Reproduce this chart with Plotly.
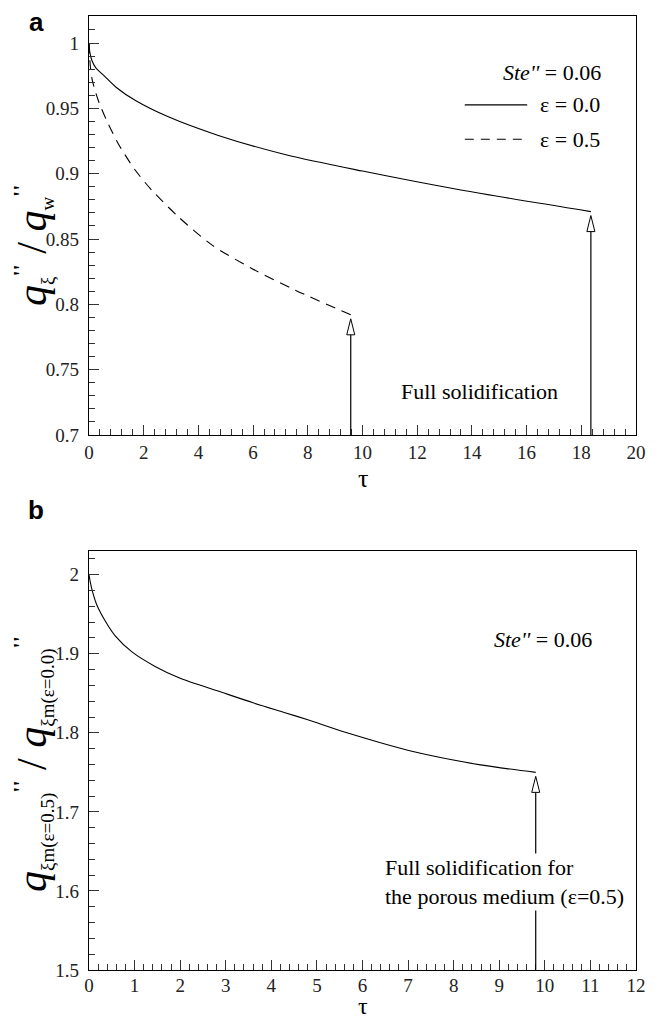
import plotly.graph_objects as go

# ---- data ----
tau_eps00 = [0.0, 0.03, 0.1, 0.25, 0.5, 1.0, 1.7, 2.9, 4.7, 7.2, 10.0, 13.6, 18.35]
q_eps00 = [1.0, 0.993, 0.987, 0.981, 0.976, 0.966, 0.956, 0.9435, 0.9295, 0.9145, 0.902, 0.8875, 0.871]

tau_eps05 = [0.0, 0.05, 0.12, 0.34, 0.64, 1.07, 1.68, 2.29, 3.27, 4.49, 5.95, 7.53, 9.57]
q_eps05 = [1.0, 0.982, 0.9716, 0.956, 0.941, 0.923, 0.903, 0.8875, 0.867, 0.8455, 0.8275, 0.811, 0.792]

tau_ratio = [0.0, 0.03, 0.08, 0.17, 0.35, 0.57, 0.95, 1.45, 2.0, 2.85, 3.6, 4.3, 4.8, 5.66,
             7.13, 8.59, 9.8]
q_ratio = [2.0, 1.99, 1.978, 1.962, 1.942, 1.923, 1.902, 1.884, 1.869, 1.8525, 1.838, 1.8255, 1.8165, 1.80,
           1.776, 1.7595, 1.75]

xticks_a = [0, 2, 4, 6, 8, 10, 12, 14, 16, 18, 20]
yticks_a = [0.7, 0.75, 0.8, 0.85, 0.9, 0.95, 1.0]
xticks_b = list(range(0, 13))
yticks_b = [1.5, 1.6, 1.7, 1.8, 1.9, 2.0]

SERIF = "'Liberation Serif', 'Times New Roman', Times, 'DejaVu Serif', serif"
SANS = "'Liberation Sans', Arial, Helvetica, sans-serif"

# page geometry (the html body adds an 8px offset)
PAGE_OFF = 8
W_PAGE, H_PAGE = 662, 1019
PL, PR, PT, PB = 89, 636, 16, 970          # plot area in page pixels
W = W_PAGE - PAGE_OFF
H = H_PAGE - PAGE_OFF
ML = PL - PAGE_OFF
MT = PT - PAGE_OFF
MR = W - (PR - PAGE_OFF)
MB = H - (PB - PAGE_OFF)
plot_h = PB - PT
pan_w = PR - PL
pan_h = 419
dom_a = [(plot_h - pan_h) / plot_h, 1.0]
dom_b = [0.0, pan_h / plot_h]

xr_a = [0, 20]
yr_a = [0.7, 1.0207]
xr_b = [0, 12]
yr_b = [1.5, 2.03]


def px_to_paper_x(px):
    return (px - PL) / pan_w


def px_to_paper_y(py):
    return (PB - py) / plot_h


fig = go.Figure()
fig.add_trace(go.Scatter(x=tau_eps00, y=q_eps00, mode="lines",
                         line=dict(color="black", width=1.1, shape="spline", smoothing=0.8),
                         xaxis="x", yaxis="y", showlegend=False, hoverinfo="skip"))
fig.add_trace(go.Scatter(x=tau_eps05, y=q_eps05, mode="lines",
                         line=dict(color="black", width=1.1, dash="10px,7px", shape="spline", smoothing=0.8),
                         xaxis="x", yaxis="y", showlegend=False, hoverinfo="skip"))
fig.add_trace(go.Scatter(x=tau_ratio, y=q_ratio, mode="lines",
                         line=dict(color="black", width=1.1, shape="spline", smoothing=0.8),
                         xaxis="x2", yaxis="y2", showlegend=False, hoverinfo="skip"))

shapes = []


def add_arrow(xref, yref, x, y_end, y_base, xr, yr):
    # open-triangle arrow pointing up at the curve end
    px_x = pan_w / (xr[1] - xr[0])
    px_y = pan_h / (yr[1] - yr[0])
    gap = 4 / px_y
    hh = 16 / px_y
    hw = 4 / px_x
    tip = y_end - gap
    shapes.append(dict(type="line", xref=xref, yref=yref, x0=x, x1=x, y0=y_base, y1=tip - hh,
                       line=dict(color="black", width=1.2)))
    shapes.append(dict(type="path", xref=xref, yref=yref,
                       path=f"M {x - hw},{tip - hh} L {x},{tip} L {x + hw},{tip - hh} Z",
                       fillcolor="white", line=dict(color="black", width=1)))


add_arrow("x", "y", tau_eps05[-1], q_eps05[-1], yr_a[0], xr_a, yr_a)
add_arrow("x", "y", tau_eps00[-1], q_eps00[-1], yr_a[0], xr_a, yr_a)
add_arrow("x2", "y2", tau_ratio[-1], q_ratio[-1], yr_b[0], xr_b, yr_b)

# legend lines (panel a)
shapes.append(dict(type="line", xref="x domain", yref="y domain", x0=0.687, x1=0.801, y0=0.788, y1=0.788,
                   line=dict(color="black", width=1.1)))
shapes.append(dict(type="line", xref="x domain", yref="y domain", x0=0.687, x1=0.801, y0=0.706, y1=0.706,
                   line=dict(color="black", width=1.1, dash="9px,7px")))

ann = []
tfont = dict(family=SERIF, size=22, color="black")
ann.append(dict(xref="x domain", yref="y domain", x=0.94, y=0.866, xanchor="right", yanchor="middle",
                text="<i>Ste''</i> = 0.06", showarrow=False, font=tfont))
ann.append(dict(xref="x domain", yref="y domain", x=0.821, y=0.788, xanchor="left", yanchor="middle",
                text="ε = 0.0", showarrow=False, font=tfont))
ann.append(dict(xref="x domain", yref="y domain", x=0.821, y=0.706, xanchor="left", yanchor="middle",
                text="ε = 0.5", showarrow=False, font=tfont))
ann.append(dict(xref="x", yref="y", x=14.26, y=0.733, xanchor="center", yanchor="middle",
                text="Full solidification", showarrow=False, font=tfont))
ann.append(dict(xref="x2 domain", yref="y2 domain", x=0.923, y=0.788, xanchor="right", yanchor="middle",
                text="<i>Ste''</i> = 0.06", showarrow=False, font=tfont))
ann.append(dict(xref="x2", yref="y2", x=6.46, y=1.611, xanchor="left", yanchor="middle", align="left",
                text="Full solidification for<br>the porous medium (ε=0.5)", showarrow=False,
                font=tfont, bgcolor="white", borderpad=1))
# panel labels
ann.append(dict(xref="paper", yref="paper", x=px_to_paper_x(36), y=px_to_paper_y(22),
                xanchor="center", yanchor="middle",
                text="<b>a</b>", showarrow=False, font=dict(family=SANS, size=26, color="black")))
ann.append(dict(xref="paper", yref="paper", x=px_to_paper_x(36), y=px_to_paper_y(510),
                xanchor="center", yanchor="middle",
                text="<b>b</b>", showarrow=False, font=dict(family=SANS, size=26, color="black")))
# x titles
ann.append(dict(xref="x domain", yref="paper", x=0.5, y=px_to_paper_y(478), xanchor="center", yanchor="middle",
                text="τ", showarrow=False, font=dict(family=SERIF, size=26, color="black")))
ann.append(dict(xref="x2 domain", yref="paper", x=0.5, y=px_to_paper_y(1006), xanchor="center",
                yanchor="middle", text="τ", showarrow=False, font=dict(family=SERIF, size=24, color="black")))


def sub(t):
    return f"<sub><span style='font-size:19px'>{t}</span></sub>"


def prm():
    return "<sup><span style='font-size:22px'><b>''</b></span></sup>"


title_a = f"<i>q</i>{sub('ξ')}{prm()} / <i>q</i>{sub('w')}{prm()}"
title_b = f"<i>q</i>{sub('ξm(ε=0.5)')}{prm()} / <i>q</i>{sub('ξm(ε=0.0)')}{prm()}"
ann.append(dict(xref="paper", yref="paper", x=px_to_paper_x(33), y=px_to_paper_y(246),
                xanchor="center", yanchor="middle", textangle=-90, text=title_a, showarrow=False,
                font=dict(family=SERIF, size=42, color="black")))
ann.append(dict(xref="paper", yref="paper", x=px_to_paper_x(33), y=px_to_paper_y(764),
                xanchor="center", yanchor="middle", textangle=-90, text=title_b, showarrow=False,
                font=dict(family=SERIF, size=42, color="black")))

axis_common = dict(showgrid=False, zeroline=False, showline=True, linecolor="black", linewidth=1.3,
                   mirror=True, ticks="inside", ticklen=10, tickwidth=1.2, tickcolor="#333",
                   automargin=False,
                   tickfont=dict(family=SERIF, size=19, color="#222"))

fig.update_layout(
    width=W, height=H,
    margin=dict(l=ML, r=MR, t=MT, b=MB),
    paper_bgcolor="white", plot_bgcolor="white",
    font=dict(family=SERIF),
    showlegend=False,
    xaxis=dict(domain=[0, 1], anchor="y", range=xr_a, tickvals=xticks_a,
               minor=dict(dtick=0.4, tick0=0, ticks="inside", ticklen=6, tickcolor="#333"),
               **axis_common),
    yaxis=dict(domain=dom_a, anchor="x", range=yr_a, tickvals=yticks_a,
               ticktext=[f"{v:g}" for v in yticks_a], ticklabelstandoff=5,
               minor=dict(dtick=0.01, tick0=0.7, ticks="inside", ticklen=6, tickcolor="#333"),
               **axis_common),
    xaxis2=dict(domain=[0, 1], anchor="y2", range=xr_b, tickvals=xticks_b, ticklabelstandoff=-2,
                minor=dict(dtick=0.2, tick0=0, ticks="inside", ticklen=6, tickcolor="#333"),
                **axis_common),
    yaxis2=dict(domain=dom_b, anchor="x2", range=yr_b, tickvals=yticks_b,
                ticktext=[f"{v:g}" for v in yticks_b], ticklabelstandoff=5,
                minor=dict(dtick=0.02, tick0=1.5, ticks="inside", ticklen=6, tickcolor="#333"),
                **axis_common),
    shapes=shapes,
    annotations=ann,
)

fig.write_html("out.html")
